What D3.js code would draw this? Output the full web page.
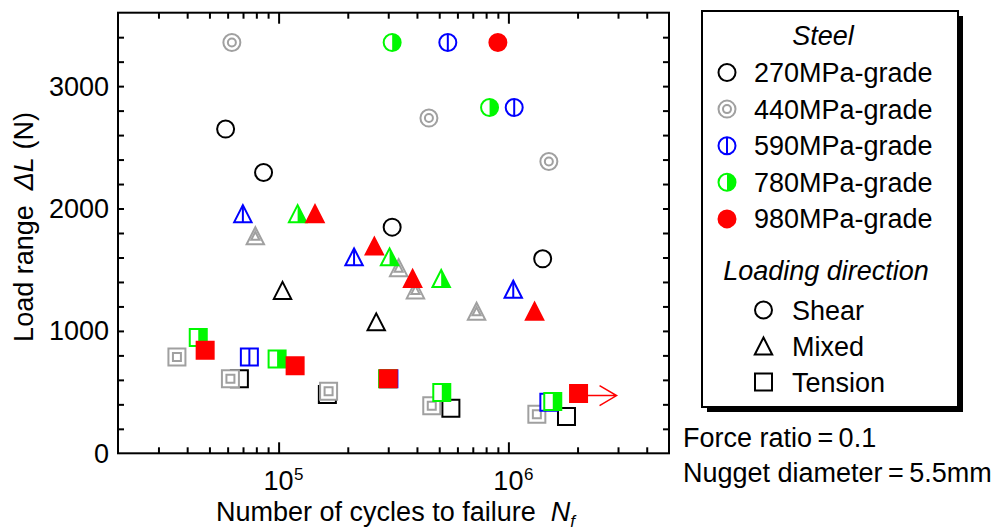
<!DOCTYPE html>
<html><head><meta charset="utf-8">
<script src="https://cdn.jsdelivr.net/npm/d3@7"></script>
<style>
body{margin:0;background:#fff}
svg text{font-family:"Liberation Sans",Arial,Helvetica,sans-serif;fill:#000}
</style>
</head><body><svg id="c" width="997" height="531"></svg>
<script>
// ---------- data ----------
const grades = ["270MPa-grade","440MPa-grade","590MPa-grade","780MPa-grade","980MPa-grade"];
const directions = ["Shear","Mixed","Tension"];
const xMinorTicks = [3e4,4e4,5e4,6e4,7e4,8e4,9e4,2e5,3e5,4e5,5e5,6e5,7e5,8e5,9e5,2e6,3e6,4e6];
const xMajorTicks = [1e5,1e6];
const xMajorExp = ["5","6"];
const yTicks = [200,400,600,800,1000,1200,1400,1600,1800,2000,2200,2400,2600,2800,3000,3200,3400];
const yLabels = [0,1000,2000,3000];
// [direction, cycles N, load range (N)]
const g270 = [["Shear",5.88e4,2649],["Shear",8.6e4,2294],["Shear",3.12e5,1848],["Shear",1.41e6,1589],
  ["Mixed",1.04e5,1331],["Mixed",2.66e5,1074],
  ["Tension",6.75e4,609],["Tension",1.63e5,480],["Tension",5.62e5,368],["Tension",1.79e6,300]];
const g440 = [["Shear",6.26e4,3357],["Shear",4.51e5,2739],["Shear",1.5e6,2384],
  ["Mixed",7.92e4,1777],["Mixed",3.33e5,1517],["Mixed",3.94e5,1335],["Mixed",7.27e5,1161],
  ["Tension",3.61e4,786],["Tension",6.17e4,609],["Tension",1.65e5,507],["Tension",4.64e5,389],["Tension",1.33e6,320]];
const g590 = [["Shear",5.45e5,3357],["Shear",1.06e6,2826],
  ["Mixed",6.99e4,1958],["Mixed",2.13e5,1605],["Mixed",1.05e6,1341],
  ["Tension",7.46e4,786],["Tension",3.02e5,609],["Tension",1.5e6,418]];
const g780 = [["Shear",3.12e5,3357],["Shear",8.28e5,2826],
  ["Mixed",1.21e5,1958],["Mixed",3.04e5,1605],["Mixed",5.1e5,1428],
  ["Tension",4.47e4,947],["Tension",9.85e4,770],["Tension",2.98e5,609],["Tension",5.13e5,497],["Tension",1.56e6,423]];
const g980 = [["Shear",9.0e5,3357],
  ["Mixed",1.44e5,1958],["Mixed",2.61e5,1693],["Mixed",3.83e5,1428],["Mixed",1.30e6,1161],
  ["Tension",4.79e4,843],["Tension",1.18e5,715],["Tension",3.0e5,609],["Tension",2.02e6,488]];
const runouts = [[2.02e6,488]];
const gradeData = [g270,g440,g590,g780,g980];
const gradeStyle = ["open","double","split","half","filled"];
const gradeColors = ["#000000","#a0a0a0","#0000ff","#00f800","#ff0000"];

// ---------- setup ----------
const svg = d3.select("#c");
const L=118,R=669,T=12.7,B=453.3;
const x = d3.scaleLog().domain([2e4,5e6]).range([L,R]);
const y = d3.scaleLinear().domain([0,3600]).range([B,T]);
const FS = 27;

// axes (inward ticks)
function styleAxis(g){ g.select(".domain").remove(); g.selectAll("line").attr("stroke","#000").attr("stroke-width",2); }
svg.append("g").attr("transform",`translate(0,${B})`).call(d3.axisBottom(x).tickValues(xMinorTicks).tickSize(-6).tickSizeOuter(0).tickFormat("")).call(styleAxis);
svg.append("g").attr("transform",`translate(0,${B})`).call(d3.axisBottom(x).tickValues(xMajorTicks).tickSize(-11).tickSizeOuter(0).tickFormat("")).call(styleAxis);
svg.append("g").attr("transform",`translate(0,${T})`).call(d3.axisTop(x).tickValues(xMinorTicks).tickSize(-6).tickSizeOuter(0).tickFormat("")).call(styleAxis);
svg.append("g").attr("transform",`translate(0,${T})`).call(d3.axisTop(x).tickValues(xMajorTicks).tickSize(-11).tickSizeOuter(0).tickFormat("")).call(styleAxis);
svg.append("g").attr("transform",`translate(${L},0)`).call(d3.axisLeft(y).tickValues(yTicks).tickSize(-6).tickSizeOuter(0).tickFormat("")).call(styleAxis);
svg.append("g").attr("transform",`translate(${R},0)`).call(d3.axisRight(y).tickValues(yTicks).tickSize(-6).tickSizeOuter(0).tickFormat("")).call(styleAxis);
svg.append("rect").attr("x",L).attr("y",T).attr("width",R-L).attr("height",B-T)
  .attr("fill","none").attr("stroke","#000").attr("stroke-width",2);

// y labels
svg.append("g").selectAll("text").data(yLabels).join("text")
  .attr("x",L-9).attr("y",d=>y(d)).attr("dy","0.35em").attr("text-anchor","end")
  .attr("font-size",FS).text(d=>d);
// x labels 10^n
xMajorTicks.forEach((v,i)=>{
  svg.append("text").attr("x",x(v)).attr("y",490).attr("text-anchor","middle").attr("font-size",FS).text("10");
  svg.append("text").attr("x",x(v)+15.5).attr("y",479.5).attr("font-size",17).text(xMajorExp[i]);
});
// axis titles
const xt = svg.append("text").attr("x",(L+R)/2+2).attr("y",521).attr("text-anchor","middle").attr("font-size",FS);
xt.append("tspan").text("Number of cycles to failure\u00a0\u00a0");
xt.append("tspan").attr("font-style","italic").text("N");
xt.append("tspan").attr("font-style","italic").attr("font-size",17).attr("dy",6).text("f");
const yt = svg.append("text").attr("transform","translate(33,227) rotate(-90)").attr("text-anchor","middle").attr("font-size",FS);
yt.append("tspan").text("Load range\u00a0\u00a0");
yt.append("tspan").attr("font-style","italic").text("\u0394L");
yt.append("tspan").text(" (N)");

// ---------- markers ----------
const r=8.5, s=17, tw=8.7, th=8.5;
function shapePath(dir, k){
  if(dir==="Shear") return `M${-r*k},0A${r*k},${r*k} 0 1,1 ${r*k},0A${r*k},${r*k} 0 1,1 ${-r*k},0Z`;
  if(dir==="Mixed") return `M0,${-th*k}L${tw*k},${th*k}L${-tw*k},${th*k}Z`;
  return `M${-s/2*k},${-s/2*k}H${s/2*k}V${s/2*k}H${-s/2*k}Z`;
}
function rightHalf(dir){
  if(dir==="Shear") return `M0,${-r}A${r},${r} 0 0,1 0,${r}Z`;
  if(dir==="Mixed") return `M0,${-th}L${tw},${th}L0,${th}Z`;
  return `M0,${-s/2}H${s/2}V${s/2}H0Z`;
}
function vline(dir){
  if(dir==="Shear") return `M0,${-r}V${r}`;
  if(dir==="Mixed") return `M0,${-th}V${th}`;
  return `M0,${-s/2}V${s/2}`;
}
function drawMarker(g, dir, style, color){
  const sw=2;
  if(style==="filled"){
    g.append("path").attr("d",shapePath(dir,1)).attr("fill",color).attr("stroke",color).attr("stroke-width",sw);
    return;
  }
  g.append("path").attr("d",shapePath(dir,1)).attr("fill","#fff");
  if(style==="half") g.append("path").attr("d",rightHalf(dir)).attr("fill",color);
  if(style==="double") g.append("path").attr("d",shapePath(dir,0.47)).attr("fill","none").attr("stroke",color).attr("stroke-width",sw);
  if(style==="split") g.append("path").attr("d",vline(dir)).attr("stroke",color).attr("stroke-width",sw);
  g.append("path").attr("d",shapePath(dir,1)).attr("fill","none").attr("stroke",color).attr("stroke-width",sw).attr("stroke-linejoin","miter");
}

const plot = svg.append("g");
gradeData.forEach((arr,gi)=>{
  arr.forEach(d=>{
    const g = plot.append("g").attr("transform",`translate(${x(d[1])},${y(d[2])})`);
    drawMarker(g, d[0], gradeStyle[gi], gradeColors[gi]);
  });
});
// run-out arrow
runouts.forEach(d=>{
  const cx=x(d[0]), cy=y(d[1])+2;
  svg.append("path").attr("d",`M${cx+9},${cy}H${cx+38}M${cx+21},${cy-10}L${cx+38},${cy}L${cx+21},${cy+10}`)
    .attr("fill","none").attr("stroke","#ff0000").attr("stroke-width",1.5);
});

// ---------- legend ----------
const lg = svg.append("g");
lg.append("rect").attr("x",707).attr("y",16).attr("width",256).attr("height",396).attr("fill","#000");
lg.append("rect").attr("x",702).attr("y",11).attr("width",256).attr("height",396).attr("fill","#fff").attr("stroke","#000").attr("stroke-width",2);
lg.append("text").attr("x",823).attr("y",45).attr("text-anchor","middle").attr("font-size",FS).attr("font-style","italic").text("Steel");
grades.forEach((name,i)=>{
  const yy = 72.5 + i*36.6;
  drawMarker(lg.append("g").attr("transform",`translate(727,${yy})`), "Shear", gradeStyle[i], gradeColors[i]);
  lg.append("text").attr("x",754).attr("y",yy+9.5).attr("font-size",FS).text(name);
});
lg.append("text").attr("x",826).attr("y",280).attr("text-anchor","middle").attr("font-size",FS).attr("font-style","italic").text("Loading direction");
directions.forEach((name,i)=>{
  const yy = 310 + i*36;
  drawMarker(lg.append("g").attr("transform",`translate(763.5,${yy})`), name, "open", "#000");
  lg.append("text").attr("x",792).attr("y",yy+9.5).attr("font-size",FS).text(name);
});
svg.append("text").attr("x",683).attr("y",446.7).attr("font-size",FS).text("Force ratio\u2009=\u20090.1");
svg.append("text").attr("x",683).attr("y",481.7).attr("font-size",FS).text("Nugget diameter\u2009=\u20095.5mm");
</script>
</body></html>
